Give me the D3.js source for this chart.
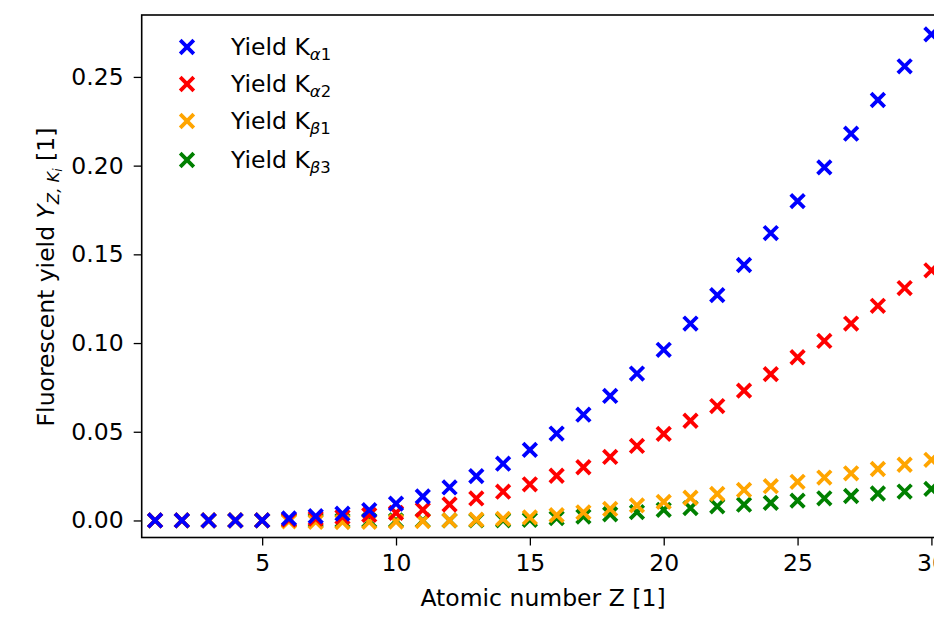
<!DOCTYPE html>
<html>
<head>
<meta charset="utf-8">
<script src="https://cdn.jsdelivr.net/npm/d3@7"></script>
<style>
  html, body { margin: 0; padding: 0; background: #fff; }
  svg { display: block; font-family: "DejaVu Sans", sans-serif; }
</style>
</head>
<body>
<svg id="chart" width="934" height="620"></svg>
<script>
// ---- data ----
const atomicNumbers = d3.range(1, 31);
const yieldKa1 = [0, 0, 0, 0, 0, 0.0012, 0.0024, 0.0038, 0.0058, 0.0095,
  0.0135, 0.0186, 0.0250, 0.0320, 0.0398, 0.0490, 0.0596, 0.0702, 0.0828, 0.0962,
  0.1110, 0.1270, 0.1440, 0.1620, 0.1800, 0.1990, 0.2180, 0.2370, 0.2560, 0.2740];
const yieldKa2 = [0, 0, 0, 0, 0, 0.0005, 0.0011, 0.0020, 0.0031, 0.0043,
  0.0060, 0.0090, 0.0124, 0.0162, 0.0204, 0.0252, 0.0300, 0.0358, 0.0420, 0.0488,
  0.0562, 0.0645, 0.0732, 0.0825, 0.0920, 0.1012, 0.1110, 0.1210, 0.1310, 0.1410];
const yieldKb1 = [0, 0, 0, 0, 0, -0.0005, -0.0008, -0.0009, -0.0008, -0.0006,
  -0.0003, 0, 0.0004, 0.0009, 0.0017, 0.0030, 0.0046, 0.0065, 0.0085, 0.0105,
  0.0128, 0.0150, 0.0172, 0.0193, 0.0218, 0.0242, 0.0266, 0.0290, 0.0314, 0.0342];
const yieldKb3 = [0, 0, 0, 0, 0, 0, 0, 0, 0, 0,
  0, 0, 0, 0.0001, 0.0004, 0.0013, 0.0022, 0.0035, 0.0047, 0.0060,
  0.0070, 0.0080, 0.0089, 0.0099, 0.0112, 0.0125, 0.0138, 0.0152, 0.0163, 0.0178];
const xTicks = [5, 10, 15, 20, 25, 30];
const yTicks = [0.00, 0.05, 0.10, 0.15, 0.20, 0.25];

const seriesDefs = [
  { sub: "α", num: "1", values: yieldKa1, color: "#0000ff" },
  { sub: "α", num: "2", values: yieldKa2, color: "#ff0000" },
  { sub: "β", num: "1", values: yieldKb1, color: "#ffa500" },
  { sub: "β", num: "3", values: yieldKb3, color: "#008000" }
];

// ---- layout ----
const FS = 23.5;
const mLeft = 141.7, mTop = 15, mBottom = 537.5;
const pxPerZ = 26.77;
const svg = d3.select("#chart");

const x = d3.scaleLinear().domain([0.5, 31]).range([mLeft, mLeft + 30.5 * pxPerZ]);
const y = d3.scaleLinear().domain([-0.0096, 0.2849]).range([mBottom, mTop]);

// markers
const half = 6.8;
const SW = 3.8;
const xPath = `M${-half},${-half}L${half},${half}M${-half},${half}L${half},${-half}`;

const plot = svg.append("g");
// draw order: green, orange, red, blue (blue on top)
[...seriesDefs].reverse().forEach(s => {
  plot.append("g").selectAll("path")
    .data(atomicNumbers.map((z, i) => [z, s.values[i]]))
    .join("path")
    .attr("d", xPath)
    .attr("transform", d => `translate(${x(d[0])},${y(d[1])})`)
    .attr("stroke", s.color)
    .attr("stroke-width", SW)
    .attr("fill", "none");
});

// axes
const xAxis = d3.axisBottom(x).tickValues(xTicks).tickFormat(d3.format("d")).tickSize(8).tickPadding(9);
const yAxis = d3.axisLeft(y).tickValues(yTicks).tickFormat(d3.format(".2f")).tickSize(8).tickPadding(10);

const gx = svg.append("g").attr("transform", `translate(0,${mBottom})`).call(xAxis);
const gy = svg.append("g").attr("transform", `translate(${mLeft},0)`).call(yAxis);
[gx, gy].forEach(g => {
  g.select(".domain").remove();
  g.selectAll(".tick line").attr("stroke", "#000").attr("stroke-width", 1.3);
  g.selectAll(".tick text").attr("fill", "#000").attr("font-size", FS).attr("font-family", "DejaVu Sans");
});

// frame
svg.append("rect")
  .attr("x", mLeft).attr("y", mTop)
  .attr("width", x.range()[1] - mLeft).attr("height", mBottom - mTop)
  .attr("fill", "none").attr("stroke", "#000").attr("stroke-width", 1.6);

// axis labels
svg.append("text")
  .attr("x", 543).attr("y", 606)
  .attr("text-anchor", "middle").attr("font-size", FS)
  .text("Atomic number Z [1]");

const yl = svg.append("text")
  .attr("transform", "translate(54,277) rotate(-90)")
  .attr("text-anchor", "middle").attr("font-size", FS);
yl.append("tspan").text("Fluorescent yield ");
yl.append("tspan").attr("font-style", "italic").text("Y");
yl.append("tspan").attr("font-style", "italic").attr("font-size", FS * 0.7).attr("dy", 5).text("Z, K");
yl.append("tspan").attr("font-style", "italic").attr("font-size", FS * 0.5).attr("dy", 3).text("i");
yl.append("tspan").attr("dy", -8).text(" [1]");

// legend
const legRows = [47, 84, 121, 160];
seriesDefs.forEach((s, i) => {
  const cy = legRows[i];
  svg.append("path").attr("d", xPath)
    .attr("transform", `translate(187,${cy})`)
    .attr("stroke", s.color).attr("stroke-width", SW).attr("fill", "none");
  const t = svg.append("text").attr("x", 231).attr("y", cy + 8).attr("font-size", FS);
  t.append("tspan").text("Yield K");
  t.append("tspan").attr("font-style", "italic").attr("font-size", FS * 0.7).attr("dy", 5).text(s.sub);
  t.append("tspan").attr("font-size", FS * 0.7).text(s.num);
});
</script>
</body>
</html>
